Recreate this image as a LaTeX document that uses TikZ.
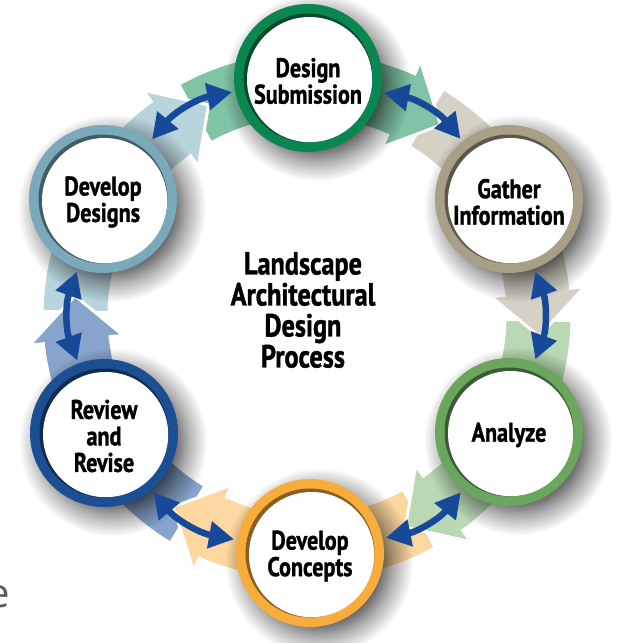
\documentclass[tikz,border=0pt]{standalone}
\usepackage{fontspec}
\setmainfont{PT Sans}
\newfontfamily\labfont{PT Sans}[FakeStretch=0.82,FakeBold=1.2]
\newfontfamily\fragfont{Open Sans}
\usetikzlibrary{arrows.meta,fadings,calc}
\pgfdeclareradialshading{shfuzz}{\pgfpointorigin}{color(0bp)=(white); color(16bp)=(white); color(20bp)=(gray); color(25bp)=(black); color(50bp)=(black)}
\pgfdeclarefading{shfuzz}{\pgfuseshading{shfuzz}}

\definecolor{dsring}{HTML}{0A8650}
\definecolor{dsband}{HTML}{80C3A5}
\definecolor{giring}{HTML}{A89F87}
\definecolor{giband}{HTML}{D5D1C5}
\definecolor{anring}{HTML}{6AA65E}
\definecolor{anband}{HTML}{B9D8B3}
\definecolor{dcring}{HTML}{F7AC3B}
\definecolor{dcband}{HTML}{FCD7A0}
\definecolor{rrring}{HTML}{1C4E94}
\definecolor{rrband}{HTML}{87A4CC}
\definecolor{ddring}{HTML}{7AA9BA}
\definecolor{ddband}{HTML}{B8D4DD}
\definecolor{linkblue}{HTML}{17499A}

\tikzset{
  stage/.style={circle, minimum size=148pt, inner sep=0pt, align=center, text=black,
     font=\labfont\bfseries\fontsize{27}{26.5}\selectfont},
  stagetext/.style={align=center, inner sep=0pt, text=black,
     font=\labfont\bfseries\fontsize{27}{26.5}\selectfont},
  title/.style={align=center, text=black, font=\labfont\bfseries\fontsize{32}{31}\selectfont},
  link/.style={draw=linkblue, line width=6.5pt, {Triangle[length=25pt,width=26pt]}-{Triangle[length=25pt,width=26pt]}, shorten <=3pt, shorten >=3pt},
  bandline/.style={draw=white, line width=3pt, line join=miter},
}

\newcommand\bandpath[2]{%
  \pgfmathsetmacro\tA{#1+29}\pgfmathsetmacro\tB{#1-24}%
  \fill[#2, bandline] ($(O)+(\tA:265pt)$) arc[start angle=\tA, end angle=\tB, radius=265pt] -- ($(O)+(\tB:198pt)$) arc[start angle=\tB, end angle=\tA, radius=198pt] -- cycle;}
\newcommand\headpath[2]{%
  \pgfmathsetmacro\tB{#1-24}\pgfmathsetmacro\tP{#1-35}%
  \fill[#2, bandline] ($(O)+(\tB:279pt)$) -- ($(O)+(\tP:233pt)$) -- ($(O)+(\tB:185pt)$) -- cycle;}
\newcommand\patchpath[2]{%
  \pgfmathsetmacro\tC{#1-20}\pgfmathsetmacro\tD{#1-24.9}%
  \fill[#2] ($(O)+(\tC:263.4pt)$) arc[start angle=\tC, end angle=\tD, radius=263.4pt] -- ($(O)+(\tD:199.6pt)$) arc[start angle=\tD, end angle=\tC, radius=199.6pt] -- cycle;}
\newcommand\stagedisc[4]{%
  \fill[black, opacity=0.6, path fading=shfuzz] ($(#2)+(9pt,-9pt)$) circle[radius=94pt];
  \fill[#3] (#2) circle[radius=74pt];
  \fill[#3!55!black] (#2) circle[radius=64.5pt];
  \fill[white] ($(#2)+(1.6pt,-1.6pt)$) circle[radius=62.6pt];
  \node[stage] (#1) at (#2) {};
  \node[stagetext] (#1-t) at ($(#2)+(0,-3pt)$) {#4};}

\begin{document}
\begin{tikzpicture}[x=1pt,y=1pt]
\useasboundingbox (0,0) rectangle (620,643);
\fill[white] (0,0) rectangle (620,643);
\coordinate (O) at (307,327);

% bands
\bandpath{90}{dsband}
\bandpath{30}{giband}
\bandpath{-30}{anband}
\bandpath{-90}{dcband}
\bandpath{-150}{rrband}
\bandpath{150}{ddband}
% heads
\headpath{90}{dsband}
\headpath{30}{giband}
\headpath{-30}{anband}
\headpath{-90}{dcband}
\headpath{-150}{rrband}
\headpath{150}{ddband}
% joins
\patchpath{90}{dsband}
\patchpath{30}{giband}
\patchpath{-30}{anband}
\patchpath{-90}{dcband}
\patchpath{-150}{rrband}
\patchpath{150}{ddband}

% stages
\stagedisc{ds}{308,565}{dsring}{Design\\Submission}
\stagedisc{gi}{509,444}{giring}{Gather\\Information}
\stagedisc{an}{509,211}{anring}{Analyze}
\stagedisc{dc}{310,90}{dcring}{Develop\\Concepts}
\stagedisc{rr}{104,210}{rrring}{Review\\and\\Revise}
\stagedisc{dd}{103,444}{ddring}{Develop\\Designs}

% links
\draw[link] (ds) to[bend left=20] (gi);
\draw[link] (gi) to[bend left=20] (an);
\draw[link] (an) to[bend left=20] (dc);
\draw[link] (dc) to[bend left=20] (rr);
\draw[link] (rr) to[bend left=20] (dd);
\draw[link] (dd) to[bend left=20] (ds);

% title
\node[title] (ttl) at (303,333) {Landscape\\Architectural\\Design\\Process};

% cut-off fragment, as in the reference
\node[font=\fragfont\fontsize{40}{40}\selectfont, text=black!65, anchor=east, inner sep=0pt] (frag) at (10,46) {e};
\end{tikzpicture}
\end{document}
